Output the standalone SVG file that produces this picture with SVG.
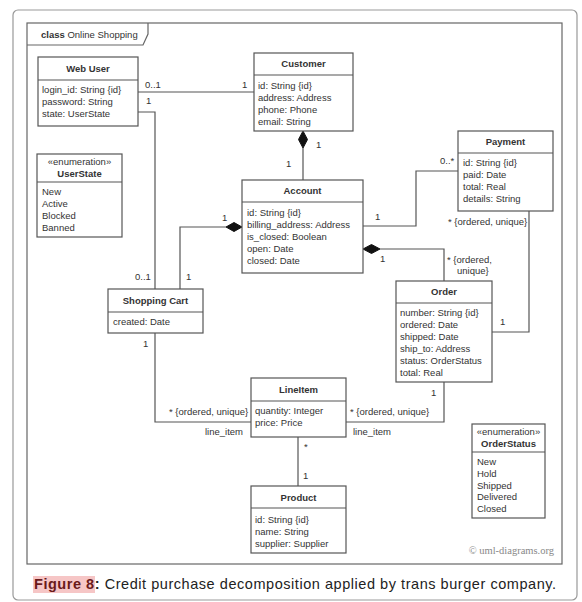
<svg xmlns="http://www.w3.org/2000/svg" width="582" height="602" viewBox="0 0 582 602">
  <style>
    text { font-family: "Liberation Sans", Arial, sans-serif; font-size: 9.5px; fill: #333; }
    .title { font-weight: bold; text-anchor: middle; }
    .mid { text-anchor: middle; }
    .box { fill: #fff; stroke: #555; stroke-width: 1.2; }
    .sep { stroke: #555; stroke-width: 1.2; }
    .conn { fill: none; stroke: #555; stroke-width: 1.2; }
    .diamond { fill: #111; stroke: #111; stroke-width: 1; }
    .frame { fill: #fff; stroke: #666; stroke-width: 1.2; }
    .caption { font-size: 14.5px; fill: #222; }
  </style>

  <!-- outer card -->
  <rect x="13" y="10" width="564" height="590" rx="5" fill="#fff" stroke="#999" stroke-width="1.2"/>

  <!-- diagram frame -->
  <g id="frame">
    <rect class="frame" x="27" y="23" width="535" height="541"/>
    <path d="M27 45 H143 L148 34 V23" fill="none" stroke="#666" stroke-width="1.2"/>
    <text x="41" y="37.5"><tspan font-weight="bold">class</tspan> Online Shopping</text>
  </g>

  <!-- connectors -->
  <g id="connectors">
    <!-- Web User - Customer -->
    <path class="conn" d="M138 92 H254"/>
    <text x="145" y="88">0..1</text>
    <text x="242" y="88">1</text>
    <!-- Web User - Shopping Cart -->
    <path class="conn" d="M138 112 H155 V289"/>
    <text x="146" y="104">1</text>
    <text x="135" y="280">0..1</text>
    <!-- Customer - Account (composition) -->
    <path class="conn" d="M303 148 V180"/>
    <path class="diamond" d="M303 131 L307.5 139.5 L303 148 L298.5 139.5 Z"/>
    <text x="316" y="148">1</text>
    <text x="286" y="167">1</text>
    <!-- Account - Shopping Cart (composition) -->
    <path class="conn" d="M226 227 H180 V289"/>
    <path class="diamond" d="M242 227 L234 231.5 L226 227 L234 222.5 Z"/>
    <text x="222" y="221">1</text>
    <text x="186" y="280">1</text>
    <!-- Account - Payment -->
    <path class="conn" d="M363 226 H416 V171 H458"/>
    <text x="375" y="220">1</text>
    <text x="440" y="164">0..*</text>
    <!-- Payment - Order -->
    <path class="conn" d="M529 211 V332 H492"/>
    <text x="448" y="225">* {ordered, unique}</text>
    <text x="500" y="325">1</text>
    <!-- Account - Order (composition) -->
    <path class="conn" d="M380 249 H444 V281"/>
    <path class="diamond" d="M363 249 L371.5 244.5 L380 249 L371.5 253.5 Z"/>
    <text x="380" y="262">1</text>
    <text x="447" y="263">* {ordered,</text>
    <text x="457" y="274">unique}</text>
    <!-- Order - LineItem -->
    <path class="conn" d="M444 382 V422 H346"/>
    <text x="431" y="396">1</text>
    <text x="350" y="415">* {ordered, unique}</text>
    <text x="353" y="435">line_item</text>
    <!-- Shopping Cart - LineItem -->
    <path class="conn" d="M155 333 V422 H251"/>
    <text x="143" y="347">1</text>
    <text x="169" y="415">* {ordered, unique}</text>
    <text x="205" y="435">line_item</text>
    <!-- LineItem - Product -->
    <path class="conn" d="M298 437 V486"/>
    <text x="304" y="450">*</text>
    <text x="303" y="479">1</text>
  </g>

  <!-- nodes -->
  <g id="web-user">
    <rect class="box" x="38" y="57" width="100" height="69"/>
    <line class="sep" x1="38" y1="80" x2="138" y2="80"/>
    <text class="title" x="88" y="72">Web User</text>
    <text x="42" y="93">login_id: String {id}</text>
    <text x="42" y="105">password: String</text>
    <text x="42" y="117">state: UserState</text>
  </g>

  <g id="customer">
    <rect class="box" x="254" y="53" width="99" height="78"/>
    <line class="sep" x1="254" y1="75" x2="353" y2="75"/>
    <text class="title" x="303.5" y="67">Customer</text>
    <text x="258" y="89">id: String {id}</text>
    <text x="258" y="101">address: Address</text>
    <text x="258" y="113">phone: Phone</text>
    <text x="258" y="125">email: String</text>
  </g>

  <g id="user-state">
    <rect class="box" x="37" y="154" width="85" height="83"/>
    <line class="sep" x1="37" y1="182" x2="122" y2="182"/>
    <text class="mid" x="79.5" y="165" font-size="8.5">«enumeration»</text>
    <text class="title" x="79.5" y="177">UserState</text>
    <text x="42" y="195">New</text>
    <text x="42" y="207">Active</text>
    <text x="42" y="219">Blocked</text>
    <text x="42" y="231">Banned</text>
  </g>

  <g id="account">
    <rect class="box" x="242" y="180" width="121" height="93"/>
    <line class="sep" x1="242" y1="202" x2="363" y2="202"/>
    <text class="title" x="302.5" y="194">Account</text>
    <text x="247" y="216">id: String {id}</text>
    <text x="247" y="228">billing_address: Address</text>
    <text x="247" y="240">is_closed: Boolean</text>
    <text x="247" y="252">open: Date</text>
    <text x="247" y="264">closed: Date</text>
  </g>

  <g id="payment">
    <rect class="box" x="458" y="131" width="95" height="80"/>
    <line class="sep" x1="458" y1="153" x2="553" y2="153"/>
    <text class="title" x="505.5" y="145">Payment</text>
    <text x="463" y="166">id: String {id}</text>
    <text x="463" y="178">paid: Date</text>
    <text x="463" y="190">total: Real</text>
    <text x="463" y="202">details: String</text>
  </g>

  <g id="shopping-cart">
    <rect class="box" x="108" y="289" width="95" height="44"/>
    <line class="sep" x1="108" y1="312" x2="203" y2="312"/>
    <text class="title" x="155.5" y="304">Shopping Cart</text>
    <text x="113" y="325">created: Date</text>
  </g>

  <g id="order">
    <rect class="box" x="396" y="281" width="96" height="101"/>
    <line class="sep" x1="396" y1="303" x2="492" y2="303"/>
    <text class="title" x="444" y="295">Order</text>
    <text x="400" y="316">number: String {id}</text>
    <text x="400" y="328">ordered: Date</text>
    <text x="400" y="340">shipped: Date</text>
    <text x="400" y="352">ship_to: Address</text>
    <text x="400" y="364">status: OrderStatus</text>
    <text x="400" y="376">total: Real</text>
  </g>

  <g id="line-item">
    <rect class="box" x="251" y="378" width="95" height="59"/>
    <line class="sep" x1="251" y1="401" x2="346" y2="401"/>
    <text class="title" x="298.5" y="393">LineItem</text>
    <text x="255" y="414">quantity: Integer</text>
    <text x="255" y="426">price: Price</text>
  </g>

  <g id="order-status">
    <rect class="box" x="472" y="424" width="73" height="94"/>
    <line class="sep" x1="472" y1="452" x2="545" y2="452"/>
    <text class="mid" x="508.5" y="435" font-size="8.5">«enumeration»</text>
    <text class="title" x="508.5" y="447">OrderStatus</text>
    <text x="477" y="465">New</text>
    <text x="477" y="477">Hold</text>
    <text x="477" y="489">Shipped</text>
    <text x="477" y="500">Delivered</text>
    <text x="477" y="512">Closed</text>
  </g>

  <g id="product">
    <rect class="box" x="251" y="486" width="95" height="67"/>
    <line class="sep" x1="251" y1="508" x2="346" y2="508"/>
    <text class="title" x="298.5" y="501">Product</text>
    <text x="255" y="523">id: String {id}</text>
    <text x="255" y="535">name: String</text>
    <text x="255" y="547">supplier: Supplier</text>
  </g>

  <text x="554" y="554" text-anchor="end" style="font-family: 'Liberation Serif', serif; font-size: 10.5px; fill: #888;">© uml-diagrams.org</text>

  <!-- caption -->
  <rect x="33" y="576" width="62" height="17" fill="#f6c6c6"/>
  <text class="caption" x="34" y="589" textLength="522" lengthAdjust="spacing"><tspan font-weight="bold" fill="#6b1a1a">Figure 8</tspan><tspan font-weight="bold">:</tspan> Credit purchase decomposition applied by trans burger company.</text>
</svg>
